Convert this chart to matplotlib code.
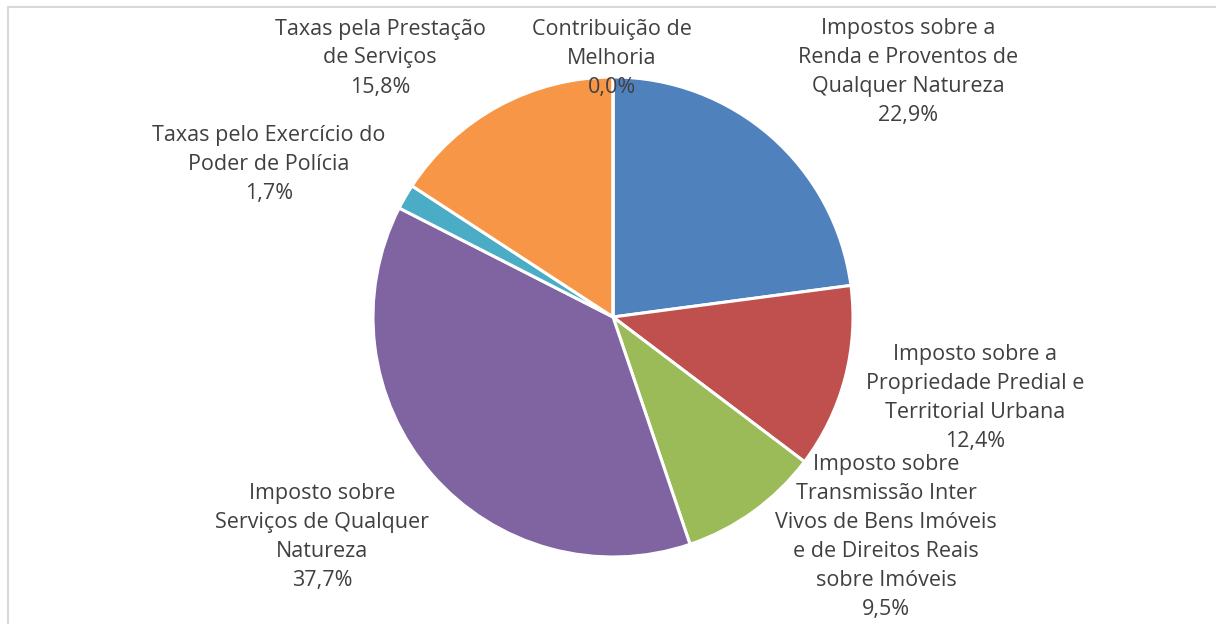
import matplotlib
matplotlib.use("Agg")
import matplotlib.pyplot as plt
from matplotlib.patches import Rectangle

categories = [
    "Impostos sobre a\nRenda e Proventos de\nQualquer Natureza",
    "Imposto sobre a\nPropriedade Predial e\nTerritorial Urbana",
    "Imposto sobre\nTransmissão Inter\nVivos de Bens Imóveis\ne de Direitos Reais\nsobre Imóveis",
    "Imposto sobre\nServiços de Qualquer\nNatureza",
    "Taxas pelo Exercício do\nPoder de Polícia",
    "Taxas pela Prestação\nde Serviços",
    "Contribuição de\nMelhoria",
]
values = [22.9, 12.4, 9.5, 37.7, 1.7, 15.8, 0.0]
colors = ["#4F81BD", "#C0504D", "#9BBB59", "#8064A2", "#4BACC6", "#F79646", "#7F7F7F"]

# label centre positions in pixels (x, y from top)
label_pos = [(908, 72), (975, 398), (886, 537), (322, 537), (269, 164), (380, 58), (612, 58)]

W, H = 1216, 624
fig = plt.figure(figsize=(W / 100, H / 100), dpi=100)
fig.patch.set_facecolor("white")

cx, cy, r = 613, 317, 240
ax = fig.add_axes([(cx - r) / W, (H - cy - r) / H, 2 * r / W, 2 * r / H])
ax.pie(values, colors=colors, startangle=90, counterclock=False, radius=1,
       wedgeprops=dict(edgecolor="white", linewidth=2.2))
ax.set_xlim(-1, 1)
ax.set_ylim(-1, 1)
ax.set_aspect("equal")
ax.axis("off")

for cat, val, (px, py) in zip(categories, values, label_pos):
    txt = f"{cat}\n{val:.1f}%".replace(".", ",")
    fig.text(px / W, 1 - py / H, txt, ha="center", va="center", multialignment="center",
             fontsize=15.5, family="Open Sans", color="#404040", linespacing=1.5)

# outer chart border
fig.patches.append(Rectangle((8 / W, -0.1), 1.2, 1 - 7 / H + 0.1, transform=fig.transFigure,
                             fill=False, edgecolor="#D9D9D9", linewidth=1.5))

fig.savefig("out.png", dpi=100)
